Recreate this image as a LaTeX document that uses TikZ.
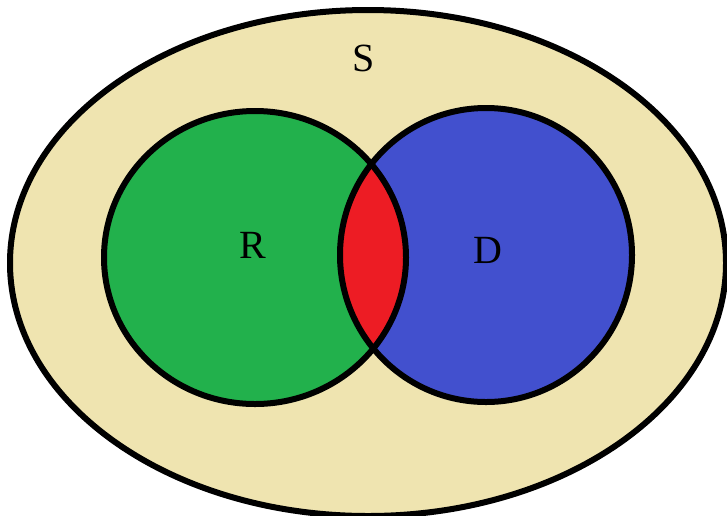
\documentclass[tikz,border=0pt]{standalone}
\usepackage{fontspec}
\setmainfont{Liberation Serif}
\definecolor{sand}{RGB}{239,228,176}
\definecolor{rgreen}{RGB}{34,177,76}
\definecolor{dblue}{RGB}{66,80,206}
\definecolor{lensred}{RGB}{237,28,36}
\begin{document}
\begin{tikzpicture}[
  x=1pt, y=-1pt,
  font=\fontsize{40}{48}\selectfont,
  outline/.style={draw=black, line width=6pt},
  setlabel/.style={inner sep=0pt, anchor=center}
]
\useasboundingbox (0,0) rectangle (727,515);
% sample space
\fill[sand] (368,263) ellipse [x radius=358, y radius=253];
% the two sets
\fill[rgreen] (255,257.5) ellipse [x radius=151, y radius=146.5];
\fill[dblue] (486,255) ellipse [x radius=146, y radius=147];
% overlap
\begin{scope}
  \clip (255,257.5) ellipse [x radius=151, y radius=146.5];
  \fill[lensred] (486,255) ellipse [x radius=146, y radius=147];
\end{scope}
\draw[outline] (368,263) ellipse [x radius=358, y radius=253];
\draw[outline] (255,257.5) ellipse [x radius=151, y radius=146.5];
\draw[outline] (486,255) ellipse [x radius=146, y radius=147];
\node[setlabel] (s) at (364,58) {S};
\node[setlabel] (r) at (253,245) {R};
\node[setlabel] (d) at (488,250) {D};
\end{tikzpicture}
\end{document}
